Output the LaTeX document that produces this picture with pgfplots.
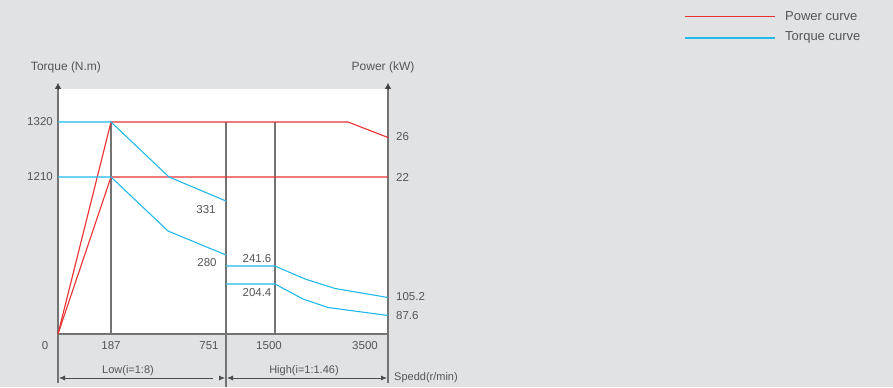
\documentclass[border=0pt]{standalone}
\usepackage{pgfplots}
\pgfplotsset{compat=1.18}
\usetikzlibrary{arrows.meta}
\usepackage{fontspec}
\setmainfont{Liberation Sans}
\definecolor{bg}{RGB}{225,226,228}
\definecolor{txt}{RGB}{85,85,85}
\definecolor{pred}{RGB}{232,50,50}
\definecolor{tblue}{RGB}{35,185,235}
\definecolor{gline}{RGB}{115,115,115}
\begin{document}
\begin{tikzpicture}
\begin{axis}[width=893pt,height=387pt,scale only axis,
  xmin=0,xmax=893,ymin=0,ymax=387,y dir=reverse,hide axis,clip=false]
\fill[bg] (0,0) rectangle (893,387);
\fill[white] (58,89) rectangle (388,334);
% frame lines
\draw[gline,line width=1.3pt] (111,122) -- (111,334);
\draw[gline,line width=1.3pt] (275,122) -- (275,334);
\draw[gline,line width=1.3pt] (226,122) -- (226,387);
\draw[gline,line width=1.3pt] (58,334) -- (388,334);
\draw[gline,line width=1.3pt] (58,383) -- (58,88);
\draw[gline,line width=1.3pt] (388,383) -- (388,88);
\draw[black!75,line width=0.5pt,-{Latex[length=6pt,width=6.5pt]}] (58,89) -- (58,83);
\draw[black!75,line width=0.5pt,-{Latex[length=6pt,width=6.5pt]}] (388,89) -- (388,83);
% bottom arrows
\draw[black!70,line width=0.8pt,{Latex[length=6pt,width=5pt]}-] (59,378) -- (213,378);
\draw[black!70,line width=0.8pt,-{Latex[length=6pt,width=5pt]}] (219,378) -- (225,378);
\draw[black!70,line width=0.8pt,{Latex[length=6pt,width=5pt]}-{Latex[length=6pt,width=5pt]}] (227,378) -- (387,378);
% power curves
\addplot[pred,line width=1.1pt] coordinates {(58,334)(111,122)(348,122)(388,137.5)};
\addplot[pred,line width=1.1pt] coordinates {(58,334)(111,177)(388,177)};
% torque curves
\addplot[tblue,line width=1.1pt] coordinates {(58,122)(111,122)(169,177)(226,201)};
\addplot[tblue,line width=1.1pt] coordinates {(58,177)(111,177)(168,231)(226,255)};
\addplot[tblue,line width=1.1pt] coordinates {(226,266)(275,266)(305,279)(335,288.5)(388,297.5)};
\addplot[tblue,line width=1.1pt] coordinates {(226,284)(275,284)(303,299)(328,307.5)(388,315.5)};
% legend
\draw[pred,line width=1pt] (685,17) -- (775,17);
\draw[tblue,line width=1.3pt] (685,38) -- (775,38);
\begin{scope}[every node/.style={text=txt,inner sep=0pt,font=\fontsize{13}{15}\selectfont}]
\node[anchor=west] at (785,16) {Power curve};
\node[anchor=west] at (785,37) {Torque curve};
\end{scope}
\begin{scope}[every node/.style={text=txt,inner sep=0pt,font=\fontsize{12}{14}\selectfont}]
\node at (66,67) {Torque (N.m)};
\node at (383,67) {Power (kW)};
\end{scope}
\begin{scope}[every node/.style={text=txt,inner sep=0pt,font=\fontsize{11.5}{14}\selectfont}]
\node[anchor=east] at (53,122) {1320};
\node[anchor=east] at (53,177) {1210};
\node at (45,346) {0};
\node at (111,346) {187};
\node at (209,346) {751};
\node at (269,346) {1500};
\node at (365,346) {3500};
\node[anchor=west] at (396,137) {26};
\node[anchor=west] at (396,177) {22};
\node at (206,210) {331};
\node at (207,263) {280};
\node at (257,259) {241.6};
\node at (257,293) {204.4};
\node[anchor=west] at (396,297) {105.2};
\node[anchor=west] at (396,316) {87.6};
\end{scope}
\begin{scope}[every node/.style={text=txt,inner sep=0pt,font=\fontsize{11}{13}\selectfont}]
\node at (128,371) {Low(i=1:8)};
\node at (304,371) {High(i=1:1.46)};
\node[anchor=west] at (394,378) {Spedd(r/min)};
\end{scope}
\end{axis}
\end{tikzpicture}
\end{document}
